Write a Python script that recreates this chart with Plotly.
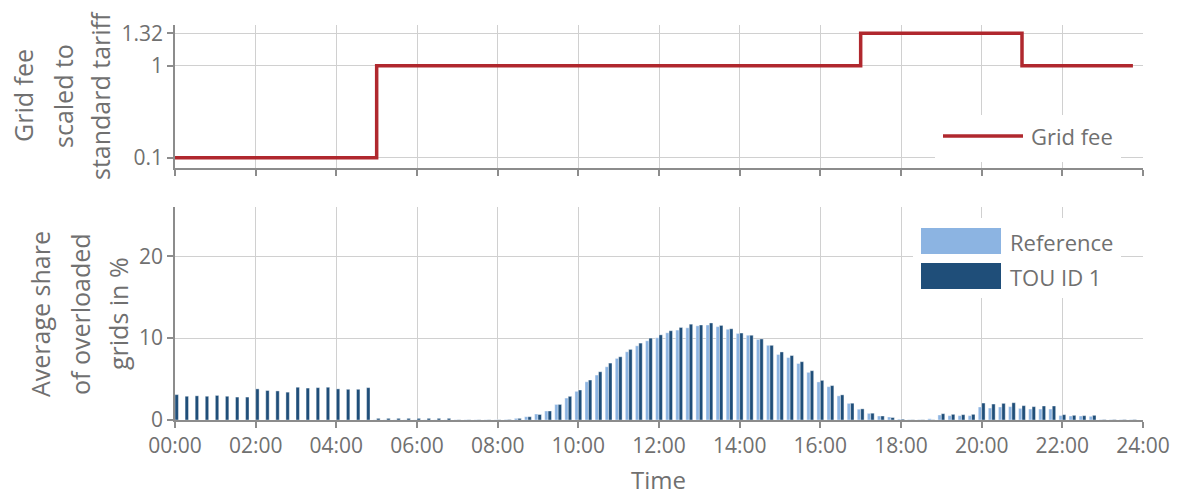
import plotly.graph_objects as go

# Quarter-hour time slots (hours) and their labels on the shared time axis
slot_hours = [i * 0.25 for i in range(96)]
tick_hours = list(range(0, 25, 2))
tick_labels = ["00:00", "02:00", "04:00", "06:00", "08:00", "10:00", "12:00",
               "14:00", "16:00", "18:00", "20:00", "22:00", "24:00"]

# Grid fee relative to the standard tariff (step changes)
fee_hours = [0, 5, 17, 21, 23.75]
fee_values = [0.1, 1, 1.32, 1, 1]

# Average share of overloaded grids in %, per quarter hour
reference_share = [
    0, 0, 0, 0, 0, 0, 0, 0,
    0, 0, 0, 0, 0, 0, 0, 0,
    0, 0, 0, 0,
    0.02, 0.02, 0.02, 0.02, 0.02, 0.02, 0.02, 0.02,
    0.03, 0.03, 0.03, 0.03,
    0.03, 0.06, 0.2, 0.4, 0.73, 1.1, 1.9, 2.68,
    3.5, 4.67, 5.49, 6.5, 7.52, 8.33, 9.06, 9.67,
    10.04, 10.65, 10.98, 11.26, 11.5, 11.6, 11.4, 11.08,
    10.57, 10.35, 9.84, 9.12, 8.0, 7.62, 6.9, 5.82,
    4.65, 4.07, 2.95, 2.03, 1.32, 0.81, 0.49, 0.37,
    0.1, 0.05, 0.05, 0.15, 0.61, 0.53, 0.53, 0.53,
    1.59, 1.46, 1.59, 1.63, 1.42, 1.34, 1.34, 1.34,
    0.55, 0.49, 0.49, 0.45, 0.05, 0.05, 0.05, 0.05,
]
tou_share = [
    3.1, 2.9, 2.95, 2.9, 3.0, 2.9, 2.8, 2.8,
    3.8, 3.6, 3.55, 3.4, 4.0, 3.9, 3.95, 4.0,
    3.8, 3.75, 3.75, 3.95,
    0.2, 0.2, 0.2, 0.2, 0.2, 0.2, 0.2, 0.2,
    0.03, 0.03, 0.03, 0.03,
    0.03, 0.06, 0.2, 0.4, 0.67, 1.1, 1.9, 2.89,
    3.66, 4.88, 5.89, 6.95, 7.72, 8.62, 9.39, 10.0,
    10.4, 10.9, 11.3, 11.7, 11.6, 11.85, 11.55, 11.14,
    10.62, 10.35, 9.9, 9.12, 8.31, 7.87, 7.12, 6.02,
    4.84, 4.2, 3.07, 2.05, 1.36, 0.83, 0.49, 0.3,
    0.1, 0.03, 0.03, 0.03, 0.77, 0.69, 0.65, 0.69,
    2.07, 1.95, 2.03, 2.11, 1.75, 1.63, 1.71, 1.71,
    0.65, 0.57, 0.53, 0.57, 0.05, 0.05, 0.05, 0.05,
]

FONT = "Open Sans"
TEXT = "#707070"
AXIS = "#8c8c8c"
GRID = "#d0d0d0"
RED = "#b0282e"
LIGHT = "#8cb4e2"
DARK = "#1f4e79"

W, H = 1178, 497
M_L, M_R, M_T, M_B = 175, 35, 25, 77
PW, PH = W - M_L - M_R, H - M_T - M_B


def px(x):
    return (x - M_L) / PW


def py(y):
    return (H - M_B - y) / PH


fig = go.Figure()

fig.add_trace(go.Scatter(
    x=fee_hours, y=fee_values, mode="lines", line_shape="hv",
    line=dict(color=RED, width=3.5), name="Grid fee",
    xaxis="x2", yaxis="y2", showlegend=False,
))
fig.add_trace(go.Bar(
    x=slot_hours, y=reference_share, name="Reference",
    marker=dict(color=LIGHT, line=dict(color="white", width=0.4)),
    showlegend=False,
))
fig.add_trace(go.Bar(
    x=slot_hours, y=tou_share, name="TOU ID 1",
    marker=dict(color=DARK, line=dict(color="white", width=0.4)),
    showlegend=False,
))

axis_common = dict(
    showline=True, linecolor=AXIS, linewidth=1.5,
    ticks="outside", ticklen=6, tickcolor=AXIS, tickwidth=1.5,
    showgrid=True, gridcolor=GRID, gridwidth=1.2, zeroline=False,
    automargin=False,
    tickfont=dict(family=FONT, size=21, color=TEXT),
)

fig.update_layout(
    width=W, height=H,
    margin=dict(l=M_L, r=M_R, t=M_T, b=M_B),
    paper_bgcolor="white", plot_bgcolor="white",
    barmode="group", bargap=0.32, bargroupgap=0,
    showlegend=False,
    font=dict(family=FONT, color=TEXT),
    xaxis=dict(domain=[0, 1], anchor="y", range=[0, 24],
               tickvals=tick_hours, ticktext=tick_labels, **axis_common),
    yaxis=dict(domain=[0, 0.539], anchor="x", range=[0, 26],
               tickvals=[0, 10, 20], **axis_common),
    xaxis2=dict(domain=[0, 1], anchor="y2", range=[0, 24], matches="x",
                tickvals=tick_hours, showticklabels=False, **axis_common),
    yaxis2=dict(domain=[0.638, 1], anchor="x2", range=[0, 1.4],
                tickvals=[0.1, 1, 1.32], ticktext=["0.1", "1", "1.32"],
                **axis_common),
)

# Legend panels
shapes = [
    dict(type="rect", xref="paper", yref="paper", x0=px(935), x1=px(1121),
         y0=py(162), y1=py(115), fillcolor="white", line=dict(width=0), layer="above"),
    dict(type="line", xref="paper", yref="paper", x0=px(943), x1=px(1023),
         y0=py(136), y1=py(136), line=dict(color=RED, width=3.5), layer="above"),
    dict(type="rect", xref="paper", yref="paper", x0=px(913), x1=px(1121),
         y0=py(298), y1=py(218), fillcolor="white", line=dict(width=0), layer="above"),
    dict(type="rect", xref="paper", yref="paper", x0=px(921), x1=px(1001),
         y0=py(254), y1=py(228), fillcolor=LIGHT, line=dict(width=0), layer="above"),
    dict(type="rect", xref="paper", yref="paper", x0=px(921), x1=px(1001),
         y0=py(289), y1=py(263), fillcolor=DARK, line=dict(width=0), layer="above"),
]
fig.update_layout(shapes=shapes)

legend_font = dict(family=FONT, size=22, color=TEXT)
annotations = [
    dict(text="Grid fee", x=px(1029), y=py(136)),
    dict(text="Reference", x=px(1008), y=py(241.5)),
    dict(text="TOU ID 1", x=px(1008), y=py(276.5)),
]
for a in annotations:
    fig.add_annotation(xref="paper", yref="paper", xanchor="left", yanchor="middle",
                       showarrow=False, font=legend_font, **a)

# Axis titles: time axis and multi-line rotated value-axis titles
title_font = dict(family=FONT, size=25, color=TEXT)
fig.add_annotation(text="Time", xref="paper", yref="paper", x=px(658), y=py(497),
                   xanchor="center", yanchor="bottom", borderpad=0, showarrow=False,
                   font=dict(family=FONT, size=24, color=TEXT))
top_lines = [("Grid fee", 23), ("scaled to", 63), ("standard tariff", 100)]
bottom_lines = [("Average share", 40), ("of overloaded", 80), ("grids in %", 118)]
for text, xc in top_lines:
    fig.add_annotation(text=text, xref="paper", yref="paper", x=px(xc), y=py(96),
                       xanchor="center", yanchor="middle", textangle=-90,
                       showarrow=False, font=title_font)
for text, xc in bottom_lines:
    fig.add_annotation(text=text, xref="paper", yref="paper", x=px(xc), y=py(314),
                       xanchor="center", yanchor="middle", textangle=-90,
                       showarrow=False, font=title_font)

fig.write_html("out.html")
